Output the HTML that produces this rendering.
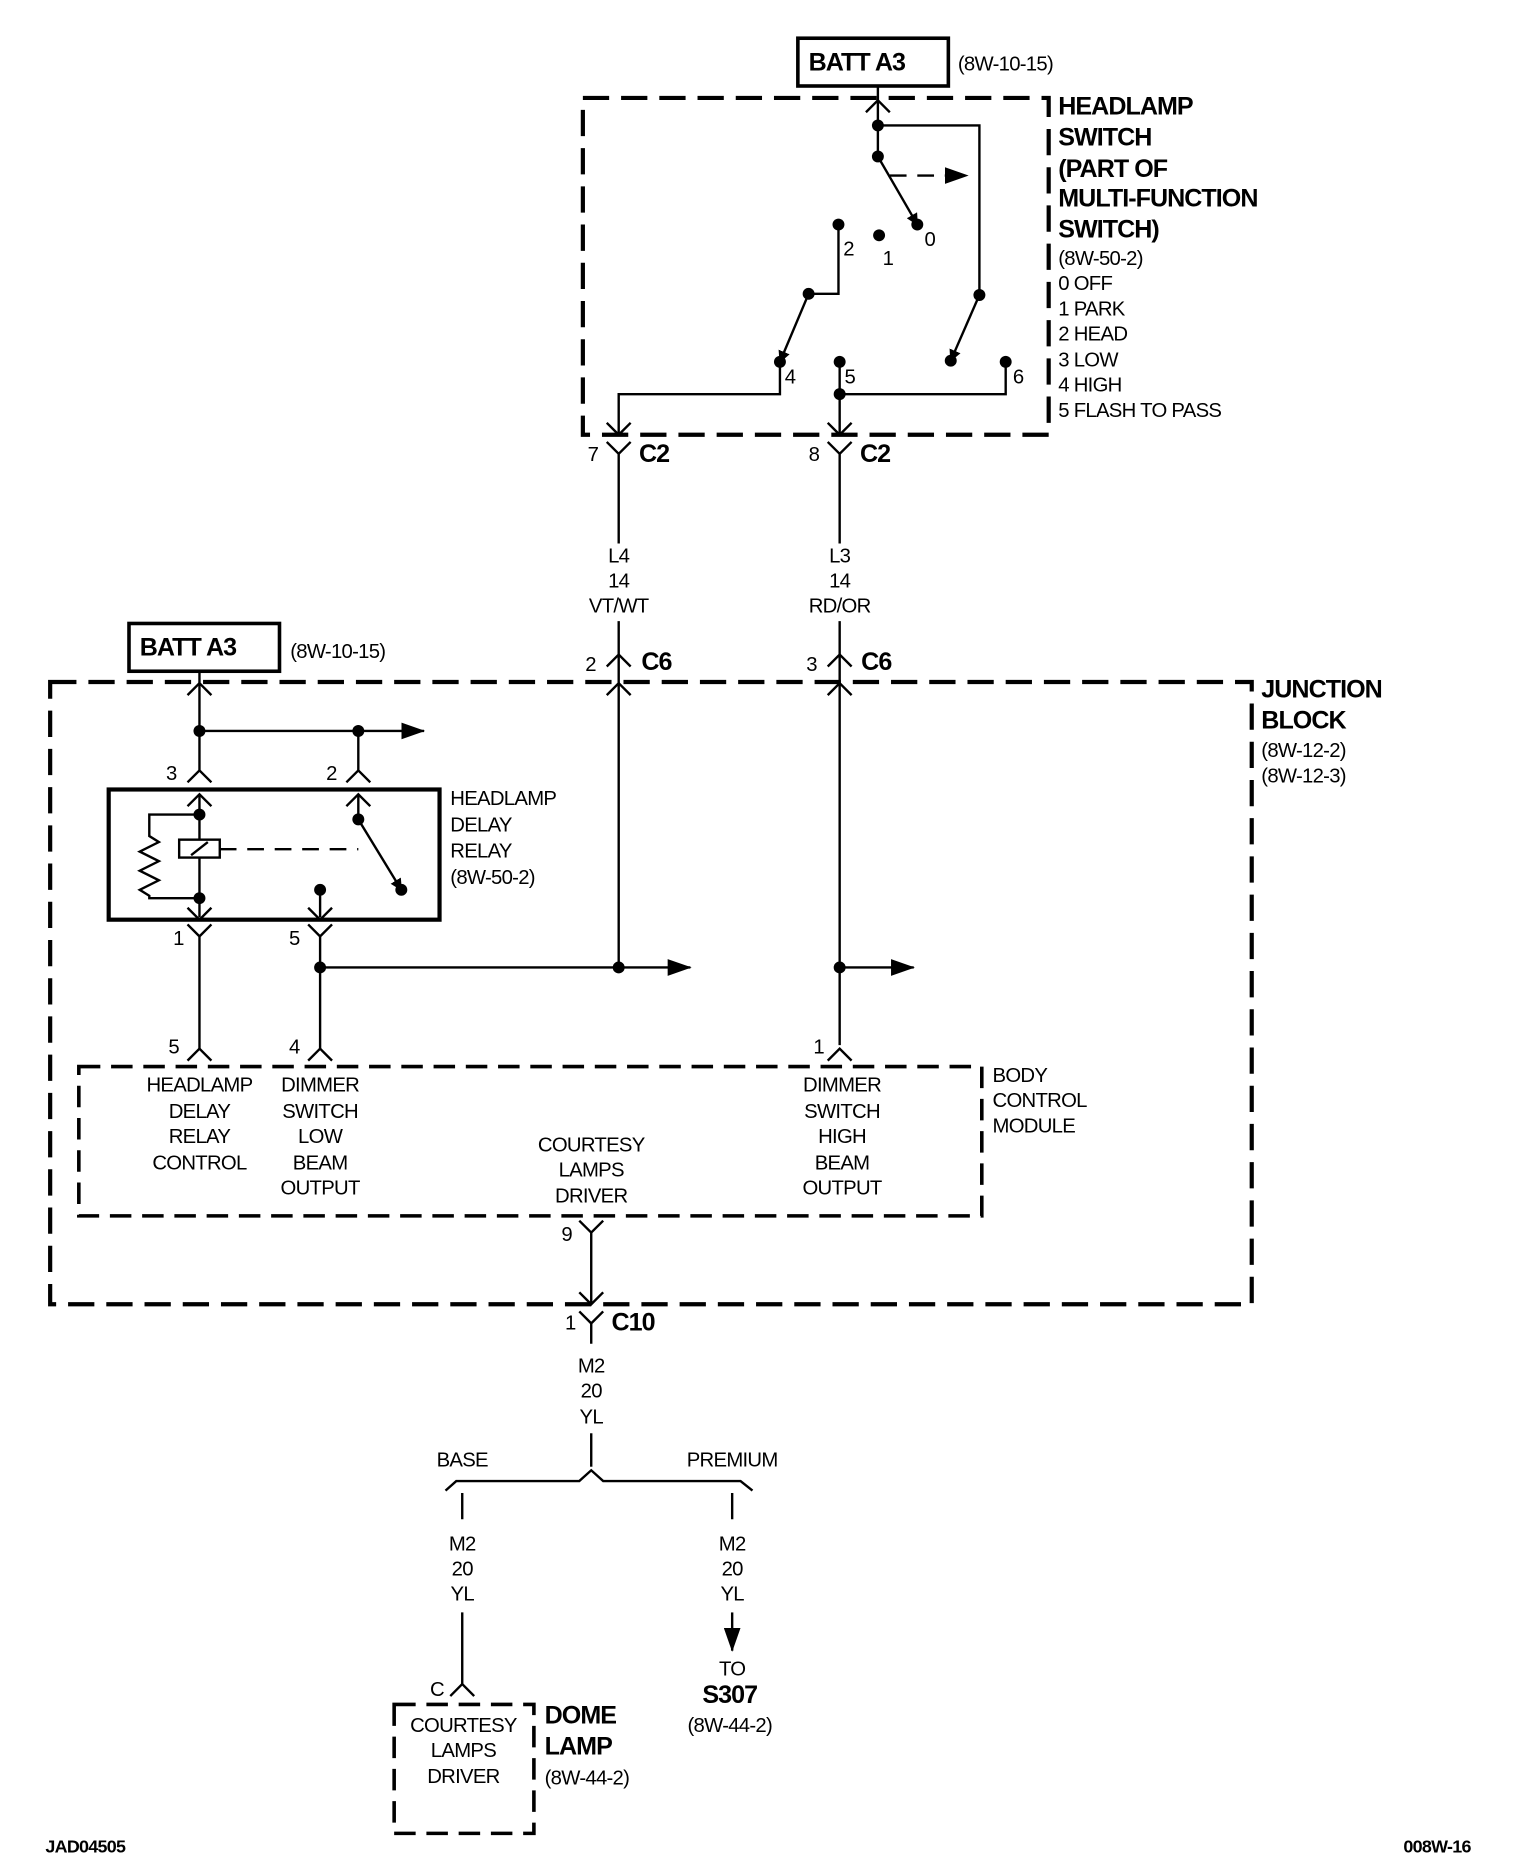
<!DOCTYPE html>
<html><head><meta charset="utf-8"><style>
html,body{margin:0;padding:0;background:#fff}
svg{display:block}
text{font-family:"Liberation Sans",sans-serif;fill:#000}
.n{font-size:17px;letter-spacing:-0.6px}
.b{font-size:21px;font-weight:bold;letter-spacing:-0.8px}
.m{font-size:17px;letter-spacing:-0.6px;text-anchor:middle}
.bm{font-size:21px;font-weight:bold;letter-spacing:-0.8px;text-anchor:middle}
</style></head><body>
<svg width="1536" height="1874" viewBox="0 0 1286 1569" preserveAspectRatio="none" xmlns="http://www.w3.org/2000/svg">
<defs>
<marker id="ah" markerWidth="10" markerHeight="10" refX="9" refY="5" orient="auto" markerUnits="userSpaceOnUse"><path d="M0,0 L10,5 L0,10 Z" fill="#000"/></marker>
<marker id="ab" markerWidth="20" markerHeight="14" refX="19" refY="7" orient="auto" markerUnits="userSpaceOnUse"><path d="M0,0 L20,7 L0,14 Z" fill="#000"/></marker>
</defs>
<g stroke="#000" stroke-width="2" fill="none">
<rect x="488" y="82" width="390" height="282" stroke-width="3.5" stroke-dasharray="22,10"/>
<rect x="42" y="571" width="1006" height="521" stroke-width="3.5" stroke-dasharray="22,10"/>
<rect x="66" y="893" width="756" height="125" stroke-width="3" stroke-dasharray="18,9"/>
<rect x="330" y="1427" width="117" height="108" stroke-width="3" stroke-dasharray="18,9"/>
<rect x="668" y="32" width="126" height="40" stroke-width="3"/>
<rect x="108" y="522" width="126" height="40" stroke-width="3"/>
<path d="M735,72 V131"/><path d="M725,94 L735,84 L745,94"/>
<path d="M735,105 H820 V247"/>
<path d="M735,131 L768,188" marker-end="url(#ah)"/>
<path d="M745,147 H810" stroke-dasharray="14,9" marker-end="url(#ab)"/>
<path d="M820,247 L796,302" marker-end="url(#ah)"/>
<path d="M702,188 V246 H677"/>
<path d="M677,246 L653,303" marker-end="url(#ah)"/>
<path d="M653,303 V330 H518 V364"/>
<path d="M508,354 L518,364 L528,354"/>
<path d="M703,303 V364"/><path d="M703,330 H842 V303"/>
<path d="M693,354 L703,364 L713,354"/>
<path d="M508,370 L518,380 L528,370 M518,380 V455"/>
<path d="M693,370 L703,380 L713,370 M703,380 V455"/>
<path d="M518,520 V810"/><path d="M508,558 L518,548 L528,558"/><path d="M508,582 L518,572 L528,582"/>
<path d="M703,520 V875"/><path d="M693,558 L703,548 L713,558"/><path d="M693,582 L703,572 L713,582"/>
<path d="M167,562 V645"/><path d="M157,582 L167,572 L177,582"/>
<path d="M167,612 H355" marker-end="url(#ab)"/>
<path d="M300,612 V645"/>
<path d="M157,655 L167,645 L177,655"/><path d="M290,655 L300,645 L310,655"/>
<rect x="91" y="661" width="277" height="109" stroke-width="3.5"/>
<path d="M157,675 L167,665 L177,675"/><path d="M290,675 L300,665 L310,675"/>
<path d="M167,665 V703 M167,718 V768"/>
<rect x="150" y="703" width="34" height="15"/><path d="M160,716 L174,705"/>
<path d="M167,682 H125 V700 L133,705 L117,713 L133,721 L117,729 L133,737 L117,745 L125,750 V752 H167"/>
<path d="M184,711 H300" stroke-dasharray="14,9"/>
<path d="M300,665 V686 L336,745" marker-end="url(#ah)"/>
<path d="M268,745 V768"/>
<path d="M157,760 L167,770 L177,760"/><path d="M258,760 L268,770 L278,760"/>
<path d="M157,774 L167,784 L177,774 M167,784 V878"/>
<path d="M258,774 L268,784 L278,774 M268,784 V878"/>
<path d="M268,810 H578" marker-end="url(#ab)"/>
<path d="M703,810 H765" marker-end="url(#ab)"/>
<path d="M157,888 L167,878 L177,888"/><path d="M258,888 L268,878 L278,888"/><path d="M693,888 L703,878 L713,888"/>
<path d="M485,1022 L495,1032 L505,1022 M495,1032 V1092"/>
<path d="M485,1082 L495,1092 L505,1082"/>
<path d="M485,1098 L495,1108 L505,1098 M495,1108 V1125"/>
<path d="M495,1200 V1228"/>
<path d="M373,1248 L382,1240 H485 L495,1231 L505,1240 H620 L630,1248"/>
<path d="M387,1250 V1272 M387,1350 V1410"/>
<path d="M377,1420 L387,1410 L397,1420"/>
<path d="M613,1250 V1272"/>
<path d="M613,1350 V1382" marker-end="url(#ab)"/>
</g>
<g fill="#000">
<circle cx="735" cy="105" r="5"/><circle cx="735" cy="131" r="5"/><circle cx="768" cy="188" r="5"/>
<circle cx="702" cy="188" r="5"/><circle cx="736" cy="197" r="5"/><circle cx="677" cy="246" r="5"/>
<circle cx="820" cy="247" r="5"/><circle cx="653" cy="303" r="5"/><circle cx="703" cy="303" r="5"/>
<circle cx="796" cy="302" r="5"/><circle cx="842" cy="303" r="5"/><circle cx="703" cy="330" r="5"/>
<circle cx="167" cy="612" r="5"/><circle cx="300" cy="612" r="5"/><circle cx="167" cy="682" r="5"/>
<circle cx="167" cy="752" r="5"/><circle cx="300" cy="686" r="5"/><circle cx="336" cy="745" r="5"/>
<circle cx="268" cy="745" r="5"/><circle cx="268" cy="810" r="5"/><circle cx="518" cy="810" r="5"/>
<circle cx="703" cy="810" r="5"/>
</g>
<text class="b" x="677" y="59">BATT A3</text>
<text class="n" x="802" y="59">(8W-10-15)</text>
<text class="b" x="117" y="549">BATT A3</text>
<text class="n" x="243" y="551">(8W-10-15)</text>
<text class="b" x="886" y="96">HEADLAMP</text>
<text class="b" x="886" y="122">SWITCH</text>
<text class="b" x="886" y="148">(PART OF</text>
<text class="b" x="886" y="173">MULTI-FUNCTION</text>
<text class="b" x="886" y="199">SWITCH)</text>
<text class="n" x="886" y="222">(8W-50-2)</text>
<text class="n" x="886" y="243">0 OFF</text>
<text class="n" x="886" y="264">1 PARK</text>
<text class="n" x="886" y="285">2 HEAD</text>
<text class="n" x="886" y="307">3 LOW</text>
<text class="n" x="886" y="328">4 HIGH</text>
<text class="n" x="886" y="349">5 FLASH TO PASS</text>
<text class="n" x="706" y="214">2</text><text class="n" x="739" y="222">1</text><text class="n" x="774" y="206">0</text>
<text class="n" x="657" y="321">4</text><text class="n" x="707" y="321">5</text><text class="n" x="848" y="321">6</text>
<text class="n" x="492" y="386">7</text><text class="b" x="535" y="387">C2</text>
<text class="n" x="677" y="386">8</text><text class="b" x="720" y="387">C2</text>
<text class="m" x="518" y="471">L4</text><text class="m" x="518" y="492">14</text><text class="m" x="518" y="513">VT/WT</text>
<text class="m" x="703" y="471">L3</text><text class="m" x="703" y="492">14</text><text class="m" x="703" y="513">RD/OR</text>
<text class="n" x="490" y="562">2</text><text class="b" x="537" y="561">C6</text>
<text class="n" x="675" y="562">3</text><text class="b" x="721" y="561">C6</text>
<text class="b" x="1056" y="584">JUNCTION</text>
<text class="b" x="1056" y="610">BLOCK</text>
<text class="n" x="1056" y="634">(8W-12-2)</text>
<text class="n" x="1056" y="655">(8W-12-3)</text>
<text class="n" x="139" y="653">3</text><text class="n" x="273" y="653">2</text>
<text class="n" x="377" y="674">HEADLAMP</text><text class="n" x="377" y="696">DELAY</text>
<text class="n" x="377" y="718">RELAY</text><text class="n" x="377" y="740">(8W-50-2)</text>
<text class="n" x="145" y="791">1</text><text class="n" x="242" y="791">5</text>
<text class="n" x="141" y="882">5</text><text class="n" x="242" y="882">4</text><text class="n" x="681" y="882">1</text>
<text class="n" x="831" y="906">BODY</text><text class="n" x="831" y="927">CONTROL</text><text class="n" x="831" y="948">MODULE</text>
<text class="m" x="167" y="914">HEADLAMP</text><text class="m" x="167" y="936">DELAY</text><text class="m" x="167" y="957">RELAY</text><text class="m" x="167" y="979">CONTROL</text>
<text class="m" x="268" y="914">DIMMER</text><text class="m" x="268" y="936">SWITCH</text><text class="m" x="268" y="957">LOW</text><text class="m" x="268" y="979">BEAM</text><text class="m" x="268" y="1000">OUTPUT</text>
<text class="m" x="495" y="964">COURTESY</text><text class="m" x="495" y="985">LAMPS</text><text class="m" x="495" y="1007">DRIVER</text>
<text class="m" x="705" y="914">DIMMER</text><text class="m" x="705" y="936">SWITCH</text><text class="m" x="705" y="957">HIGH</text><text class="m" x="705" y="979">BEAM</text><text class="m" x="705" y="1000">OUTPUT</text>
<text class="n" x="470" y="1039">9</text>
<text class="n" x="473" y="1113">1</text><text class="b" x="512" y="1114">C10</text>
<text class="m" x="495" y="1149">M2</text><text class="m" x="495" y="1170">20</text><text class="m" x="495" y="1192">YL</text>
<text class="m" x="387" y="1228">BASE</text><text class="m" x="613" y="1228">PREMIUM</text>
<text class="m" x="387" y="1298">M2</text><text class="m" x="387" y="1319">20</text><text class="m" x="387" y="1340">YL</text>
<text class="m" x="613" y="1298">M2</text><text class="m" x="613" y="1319">20</text><text class="m" x="613" y="1340">YL</text>
<text class="n" x="360" y="1420">C</text>
<text class="m" x="388" y="1450">COURTESY</text><text class="m" x="388" y="1471">LAMPS</text><text class="m" x="388" y="1493">DRIVER</text>
<text class="b" x="456" y="1443">DOME</text><text class="b" x="456" y="1469">LAMP</text>
<text class="n" x="456" y="1494">(8W-44-2)</text>
<text class="m" x="613" y="1403">TO</text>
<text class="bm" x="611" y="1426">S307</text>
<text class="m" x="611" y="1450">(8W-44-2)</text>
<text x="38" y="1551" style="font-weight:bold;font-size:15px;letter-spacing:-0.6px">JAD04505</text>
<text x="1175" y="1551" style="font-weight:bold;font-size:15px;letter-spacing:-0.6px">008W-16</text>
</svg>
</body></html>
